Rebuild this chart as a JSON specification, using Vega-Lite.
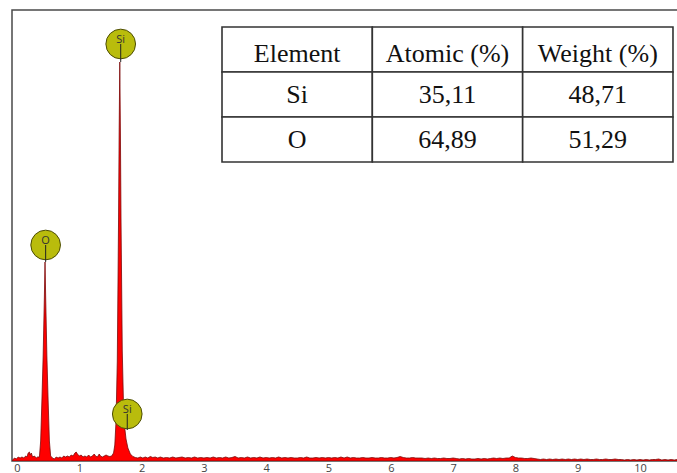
{
  "$schema": "https://vega.github.io/schema/vega-lite/v6.json",
  "width": 667,
  "height": 451,
  "padding": {"left": 12, "top": 10, "right": 0, "bottom": 0},
  "background": "white",
  "config": {
    "view": {"stroke": "#4a4a4a", "strokeWidth": 1.5},
    "font": "Open Sans"
  },
  "datasets": {
    "spectrum": [
      {"keV": -0.07, "counts": 10}, {"keV": -0.04, "counts": 30}, {"keV": -0.01, "counts": 20}, {"keV": 0.02, "counts": 40},
      {"keV": 0.05, "counts": 30}, {"keV": 0.08, "counts": 40}, {"keV": 0.11, "counts": 30}, {"keV": 0.14, "counts": 50},
      {"keV": 0.16, "counts": 40}, {"keV": 0.18, "counts": 80}, {"keV": 0.20, "counts": 90}, {"keV": 0.21, "counts": 60},
      {"keV": 0.23, "counts": 80}, {"keV": 0.25, "counts": 40}, {"keV": 0.28, "counts": 50}, {"keV": 0.31, "counts": 30},
      {"keV": 0.33, "counts": 40},
      {"keV": 0.36, "counts": 40}, {"keV": 0.38, "counts": 200}, {"keV": 0.40, "counts": 600}, {"keV": 0.42, "counts": 1050},
      {"keV": 0.44, "counts": 1650}, {"keV": 0.45, "counts": 1990}, {"keV": 0.46, "counts": 1650}, {"keV": 0.48, "counts": 1050},
      {"keV": 0.50, "counts": 600}, {"keV": 0.52, "counts": 200}, {"keV": 0.54, "counts": 50},
      {"keV": 0.57, "counts": 30}, {"keV": 0.60, "counts": 20}, {"keV": 0.63, "counts": 40}, {"keV": 0.66, "counts": 30},
      {"keV": 0.69, "counts": 40}, {"keV": 0.72, "counts": 30}, {"keV": 0.75, "counts": 50}, {"keV": 0.78, "counts": 40},
      {"keV": 0.81, "counts": 50}, {"keV": 0.84, "counts": 40}, {"keV": 0.87, "counts": 60}, {"keV": 0.90, "counts": 50},
      {"keV": 0.93, "counts": 80}, {"keV": 0.95, "counts": 90}, {"keV": 0.97, "counts": 70}, {"keV": 1.00, "counts": 50},
      {"keV": 1.03, "counts": 60}, {"keV": 1.06, "counts": 40}, {"keV": 1.09, "counts": 50}, {"keV": 1.12, "counts": 40},
      {"keV": 1.15, "counts": 60}, {"keV": 1.18, "counts": 40}, {"keV": 1.21, "counts": 50}, {"keV": 1.24, "counts": 70},
      {"keV": 1.26, "counts": 50}, {"keV": 1.29, "counts": 40}, {"keV": 1.32, "counts": 70}, {"keV": 1.34, "counts": 50},
      {"keV": 1.37, "counts": 40}, {"keV": 1.40, "counts": 50}, {"keV": 1.43, "counts": 60}, {"keV": 1.46, "counts": 50},
      {"keV": 1.49, "counts": 45},
      {"keV": 1.52, "counts": 50}, {"keV": 1.55, "counts": 80}, {"keV": 1.57, "counts": 160}, {"keV": 1.59, "counts": 400},
      {"keV": 1.61, "counts": 1000}, {"keV": 1.63, "counts": 2400}, {"keV": 1.64, "counts": 3300}, {"keV": 1.65, "counts": 3990},
      {"keV": 1.66, "counts": 3300}, {"keV": 1.67, "counts": 2400}, {"keV": 1.69, "counts": 1100}, {"keV": 1.71, "counts": 550},
      {"keV": 1.73, "counts": 330}, {"keV": 1.75, "counts": 220}, {"keV": 1.78, "counts": 130}, {"keV": 1.82, "counts": 70},
      {"keV": 1.86, "counts": 45}, {"keV": 1.90, "counts": 35},
      {"keV": 1.94, "counts": 30}, {"keV": 1.98, "counts": 40}, {"keV": 2.02, "counts": 30}, {"keV": 2.06, "counts": 40},
      {"keV": 2.10, "counts": 30}, {"keV": 2.14, "counts": 45}, {"keV": 2.18, "counts": 35}, {"keV": 2.22, "counts": 40},
      {"keV": 2.26, "counts": 30}, {"keV": 2.30, "counts": 40}, {"keV": 2.35, "counts": 30}, {"keV": 2.40, "counts": 35},
      {"keV": 2.45, "counts": 30}, {"keV": 2.50, "counts": 40}, {"keV": 2.55, "counts": 30}, {"keV": 2.60, "counts": 35},
      {"keV": 2.65, "counts": 40}, {"keV": 2.70, "counts": 30}, {"keV": 2.75, "counts": 35}, {"keV": 2.80, "counts": 30},
      {"keV": 2.85, "counts": 40}, {"keV": 2.90, "counts": 30}, {"keV": 2.95, "counts": 35}, {"keV": 3.00, "counts": 30},
      {"keV": 3.05, "counts": 35}, {"keV": 3.10, "counts": 30}, {"keV": 3.15, "counts": 40}, {"keV": 3.20, "counts": 30},
      {"keV": 3.25, "counts": 35}, {"keV": 3.30, "counts": 30}, {"keV": 3.35, "counts": 40}, {"keV": 3.40, "counts": 30},
      {"keV": 3.45, "counts": 35}, {"keV": 3.50, "counts": 45}, {"keV": 3.55, "counts": 30}, {"keV": 3.60, "counts": 35},
      {"keV": 3.65, "counts": 30}, {"keV": 3.70, "counts": 40}, {"keV": 3.75, "counts": 30}, {"keV": 3.80, "counts": 35},
      {"keV": 3.85, "counts": 30}, {"keV": 3.90, "counts": 40}, {"keV": 3.95, "counts": 30}, {"keV": 4.00, "counts": 35},
      {"keV": 4.05, "counts": 30}, {"keV": 4.10, "counts": 35}, {"keV": 4.15, "counts": 30}, {"keV": 4.20, "counts": 40},
      {"keV": 4.25, "counts": 30}, {"keV": 4.30, "counts": 35}, {"keV": 4.35, "counts": 30}, {"keV": 4.40, "counts": 35},
      {"keV": 4.45, "counts": 30}, {"keV": 4.50, "counts": 30}, {"keV": 4.55, "counts": 35}, {"keV": 4.60, "counts": 30},
      {"keV": 4.65, "counts": 40}, {"keV": 4.70, "counts": 30}, {"keV": 4.75, "counts": 30}, {"keV": 4.80, "counts": 35},
      {"keV": 4.85, "counts": 30}, {"keV": 4.90, "counts": 35}, {"keV": 4.95, "counts": 30}, {"keV": 5.00, "counts": 35},
      {"keV": 5.05, "counts": 30}, {"keV": 5.10, "counts": 35}, {"keV": 5.15, "counts": 30}, {"keV": 5.20, "counts": 40},
      {"keV": 5.25, "counts": 30}, {"keV": 5.30, "counts": 40}, {"keV": 5.35, "counts": 30}, {"keV": 5.40, "counts": 35},
      {"keV": 5.45, "counts": 30}, {"keV": 5.50, "counts": 30}, {"keV": 5.55, "counts": 35}, {"keV": 5.60, "counts": 30},
      {"keV": 5.65, "counts": 30}, {"keV": 5.70, "counts": 35}, {"keV": 5.75, "counts": 30}, {"keV": 5.80, "counts": 30},
      {"keV": 5.85, "counts": 35}, {"keV": 5.90, "counts": 30}, {"keV": 5.95, "counts": 30}, {"keV": 6.00, "counts": 35},
      {"keV": 6.05, "counts": 30}, {"keV": 6.10, "counts": 35}, {"keV": 6.15, "counts": 45}, {"keV": 6.20, "counts": 35},
      {"keV": 6.25, "counts": 30}, {"keV": 6.30, "counts": 30}, {"keV": 6.35, "counts": 35}, {"keV": 6.40, "counts": 30},
      {"keV": 6.45, "counts": 30}, {"keV": 6.50, "counts": 30}, {"keV": 6.55, "counts": 25}, {"keV": 6.60, "counts": 30},
      {"keV": 6.65, "counts": 25}, {"keV": 6.70, "counts": 30}, {"keV": 6.75, "counts": 25}, {"keV": 6.80, "counts": 25},
      {"keV": 6.85, "counts": 30}, {"keV": 6.90, "counts": 25}, {"keV": 6.95, "counts": 25}, {"keV": 7.00, "counts": 30},
      {"keV": 7.05, "counts": 25}, {"keV": 7.10, "counts": 20}, {"keV": 7.15, "counts": 25}, {"keV": 7.20, "counts": 20},
      {"keV": 7.25, "counts": 25}, {"keV": 7.30, "counts": 20}, {"keV": 7.35, "counts": 20}, {"keV": 7.40, "counts": 25},
      {"keV": 7.45, "counts": 20}, {"keV": 7.50, "counts": 25}, {"keV": 7.55, "counts": 20}, {"keV": 7.60, "counts": 25},
      {"keV": 7.65, "counts": 30}, {"keV": 7.70, "counts": 25}, {"keV": 7.75, "counts": 30}, {"keV": 7.80, "counts": 25},
      {"keV": 7.85, "counts": 30}, {"keV": 7.90, "counts": 30}, {"keV": 7.95, "counts": 50}, {"keV": 8.00, "counts": 35},
      {"keV": 8.05, "counts": 30}, {"keV": 8.10, "counts": 30}, {"keV": 8.15, "counts": 25}, {"keV": 8.20, "counts": 25},
      {"keV": 8.25, "counts": 30}, {"keV": 8.30, "counts": 25}, {"keV": 8.35, "counts": 20}, {"keV": 8.40, "counts": 15},
      {"keV": 8.45, "counts": 20}, {"keV": 8.50, "counts": 15}, {"keV": 8.55, "counts": 20}, {"keV": 8.60, "counts": 15},
      {"keV": 8.65, "counts": 20}, {"keV": 8.70, "counts": 15}, {"keV": 8.75, "counts": 20}, {"keV": 8.80, "counts": 15},
      {"keV": 8.85, "counts": 20}, {"keV": 8.90, "counts": 15}, {"keV": 8.95, "counts": 20}, {"keV": 9.00, "counts": 15},
      {"keV": 9.05, "counts": 20}, {"keV": 9.10, "counts": 15}, {"keV": 9.15, "counts": 20}, {"keV": 9.20, "counts": 15},
      {"keV": 9.25, "counts": 15}, {"keV": 9.30, "counts": 20}, {"keV": 9.35, "counts": 15}, {"keV": 9.40, "counts": 15},
      {"keV": 9.45, "counts": 20}, {"keV": 9.50, "counts": 15}, {"keV": 9.55, "counts": 15}, {"keV": 9.60, "counts": 20},
      {"keV": 9.65, "counts": 15}, {"keV": 9.70, "counts": 15}, {"keV": 9.75, "counts": 10}, {"keV": 9.80, "counts": 15},
      {"keV": 9.85, "counts": 10}, {"keV": 9.90, "counts": 15}, {"keV": 9.95, "counts": 10}, {"keV": 10.00, "counts": 15},
      {"keV": 10.05, "counts": 10}, {"keV": 10.10, "counts": 15}, {"keV": 10.15, "counts": 10}, {"keV": 10.20, "counts": 15},
      {"keV": 10.25, "counts": 15}, {"keV": 10.30, "counts": 20}, {"keV": 10.35, "counts": 10}, {"keV": 10.40, "counts": 15},
      {"keV": 10.45, "counts": 10}, {"keV": 10.50, "counts": 15}, {"keV": 10.55, "counts": 10}, {"keV": 10.60, "counts": 15},
      {"keV": 10.65, "counts": 10}
    ],
    "peaks": [
      {"label": "Si", "keV": 1.665, "center": 4170, "tip": 3990},
      {"label": "O", "keV": 0.46, "center": 2160, "tip": 1990},
      {"label": "Si", "keV": 1.77, "center": 470, "tip": 310}
    ],
    "table": [
      {"row": 0, "col": 0, "text": "Element"},
      {"row": 0, "col": 1, "text": "Atomic (%)"},
      {"row": 0, "col": 2, "text": "Weight (%)"},
      {"row": 1, "col": 0, "text": "Si"},
      {"row": 1, "col": 1, "text": "35,11"},
      {"row": 1, "col": 2, "text": "48,71"},
      {"row": 2, "col": 0, "text": "O"},
      {"row": 2, "col": 1, "text": "64,89"},
      {"row": 2, "col": 2, "text": "51,29"}
    ]
  },
  "layer": [
    {
      "layer": [
        {
          "data": {"name": "spectrum"},
          "mark": {"type": "area", "color": "#ff0000", "stroke": "#7a0a0a", "strokeWidth": 0.8, "interpolate": "linear", "clip": true},
          "encoding": {
            "x": {
              "field": "keV", "type": "quantitative",
              "scale": {"domain": [-0.08, 10.626], "nice": false, "zero": false},
              "axis": {
                "values": [0, 1, 2, 3, 4, 5, 6, 7, 8, 9, 10],
                "format": "d",
                "title": null, "domain": false, "ticks": false, "grid": false,
                "labelPadding": 1, "labelBaseline": "top", "labelFontSize": 11, "labelColor": "#444", "labelFont": "Open Sans"
              }
            },
            "y": {
              "field": "counts", "type": "quantitative",
              "scale": {"domain": [0, 4510], "nice": false, "zero": true},
              "axis": null
            }
          }
        },
        {
          "data": {"name": "peaks"},
          "mark": {"type": "point", "shape": "circle", "filled": true, "fill": "#b9bc0c", "stroke": "#4d4d05", "strokeWidth": 1, "size": 880, "opacity": 1},
          "encoding": {
            "x": {"field": "keV", "type": "quantitative"},
            "y": {"field": "center", "type": "quantitative"}
          }
        },
        {
          "data": {"name": "peaks"},
          "mark": {"type": "rule", "color": "#222222", "strokeWidth": 1},
          "encoding": {
            "x": {"field": "keV", "type": "quantitative"},
            "y": {"field": "center", "type": "quantitative"},
            "y2": {"field": "tip"}
          }
        },
        {
          "data": {"name": "peaks"},
          "mark": {"type": "text", "font": "Open Sans", "fontSize": 11, "color": "#333333", "baseline": "middle", "align": "center", "dy": -4},
          "encoding": {
            "x": {"field": "keV", "type": "quantitative"},
            "y": {"field": "center", "type": "quantitative"},
            "text": {"field": "label"}
          }
        }
      ]
    },
    {
      "data": {"name": "table"},
      "transform": [
        {"calculate": "datum.col - 0.5", "as": "colStart"},
        {"calculate": "datum.col + 0.5", "as": "colEnd"},
        {"calculate": "datum.row - 0.5", "as": "rowStart"},
        {"calculate": "datum.row + 0.5", "as": "rowEnd"}
      ],
      "layer": [
        {
          "mark": {"type": "rect", "fill": "white", "stroke": "#333333", "strokeWidth": 1.6},
          "encoding": {
            "x": {"field": "colStart", "type": "quantitative", "scale": {"domain": [-1.897, 2.54], "nice": false, "zero": false}, "axis": null},
            "x2": {"field": "colEnd"},
            "y": {"field": "rowStart", "type": "quantitative", "scale": {"domain": [-0.878, 9.144], "nice": false, "zero": false, "reverse": true}, "axis": null},
            "y2": {"field": "rowEnd"}
          }
        },
        {
          "transform": [{"filter": "datum.row === 0"}],
          "mark": {"type": "text", "font": "Liberation Serif", "fontSize": 26, "color": "#111111", "baseline": "alphabetic", "align": "center", "dy": 12},
          "encoding": {
            "x": {"field": "col", "type": "quantitative"},
            "y": {"field": "row", "type": "quantitative"},
            "text": {"field": "text"}
          }
        },
        {
          "transform": [{"filter": "datum.row > 0"}],
          "mark": {"type": "text", "font": "Liberation Serif", "fontSize": 26, "color": "#111111", "baseline": "alphabetic", "align": "center", "dy": 8},
          "encoding": {
            "x": {"field": "col", "type": "quantitative"},
            "y": {"field": "row", "type": "quantitative"},
            "text": {"field": "text"}
          }
        }
      ]
    }
  ],
  "resolve": {"scale": {"x": "independent", "y": "independent"}}
}
